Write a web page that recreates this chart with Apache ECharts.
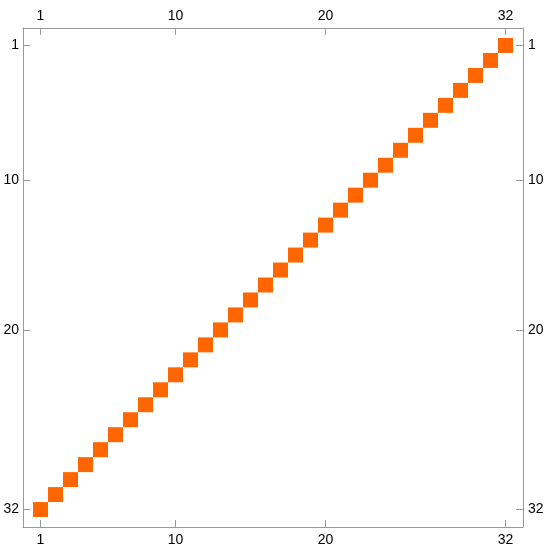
<!DOCTYPE html>
<html><head><meta charset="utf-8">
<script src="https://cdn.jsdelivr.net/npm/echarts@6/dist/echarts.min.js"></script>
<style>html,body{margin:0;padding:0;background:#fff}#c{width:548px;height:550px}</style>
</head><body><div id="c"></div>
<script>
const rowIdx = [1,2,3,4,5,6,7,8,9,10,11,12,13,14,15,16,17,18,19,20,21,22,23,24,25,26,27,28,29,30,31,32];
const colIdx = [32,31,30,29,28,27,26,25,24,23,22,21,20,19,18,17,16,15,14,13,12,11,10,9,8,7,6,5,4,3,2,1];
const cellValues = [1,1,1,1,1,1,1,1,1,1,1,1,1,1,1,1,1,1,1,1,1,1,1,1,1,1,1,1,1,1,1,1];
const tickValues = [1,10,20,32];

const data = rowIdx.map((r,i)=>[colIdx[i], r, cellValues[i]]);
const frameColor = '#9a9a9a';
const font = 'Liberation Sans, Arial, sans-serif';
function axisCommon(pos, isX, margin){
  return {
    type:'value', position:pos, min:-0.1667, max:33.1667,
    inverse: !isX,
    splitLine:{show:false},
    axisLine:{show:true, onZero:false, lineStyle:{color:frameColor, width:1}},
    axisTick:{show:true, inside:true, length:7, customValues:tickValues, lineStyle:{color:frameColor}},
    axisLabel:{show:true, customValues:tickValues, color:'#000', fontSize:14, fontFamily:font, margin:margin}
  };
}
const chart = echarts.init(document.getElementById('c'));
chart.setOption({
  animation:false,
  grid:{left:23, right:25, top:28, bottom:23, containLabel:false},
  xAxis:[axisCommon('bottom', true, 6), axisCommon('top', true, 5)],
  yAxis:[axisCommon('left', false, 4), axisCommon('right', false, 5)],
  series:[{
    type:'custom',
    xAxisIndex:0, yAxisIndex:0,
    data:data,
    renderItem:function(params, api){
      const x = api.value(0), y = api.value(1);
      const p1 = api.coord([x-0.5, y-0.5]);
      const p2 = api.coord([x+0.5, y+0.5]);
      return {type:'rect', shape:{x:Math.min(p1[0],p2[0]), y:Math.min(p1[1],p2[1]), width:Math.abs(p2[0]-p1[0]), height:Math.abs(p2[1]-p1[1])},
        style:{fill:'#ff6600'}};
    }
  }]
});
</script></body></html>
